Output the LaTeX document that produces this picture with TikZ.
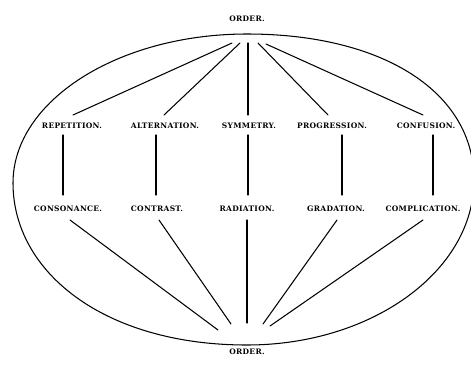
\documentclass[tikz,border=0pt]{standalone}
\usepackage{fontspec}
\newfontfamily\labfont[LetterSpace=4]{DejaVu Serif}
\usetikzlibrary{calc}
\begin{document}
\begin{tikzpicture}[x=1pt,y=-1pt,
  lab/.style={font=\labfont\fontsize{7.5}{8}\selectfont\bfseries, inner sep=0pt},
  ln/.style={line width=1.05pt, line cap=round}]
\useasboundingbox (0,0) rectangle (471,365);
\begin{scope}
\clip (0,0) rectangle (471,365);
\draw[line width=1.05pt] (13,183) .. controls (13,101) and (118,34) .. (247,34)
  .. controls (383,34) and (474,92) .. (474,180)
  .. controls (474,271) and (372,345) .. (247,345)
  .. controls (104,345) and (13,272) .. (13,183) -- cycle;
\end{scope}
\node[lab] (otop) at (247,19) {ORDER.};
\node[lab] (obot) at (247,352) {ORDER.};
\node[lab] (r1) at (72,126) {REPETITION.};
\node[lab] (r2) at (165,126) {ALTERNATION.};
\node[lab] (r3) at (249,126) {SYMMETRY.};
\node[lab] (r4) at (332,126) {PROGRESSION.};
\node[lab] (r5) at (426,126) {CONFUSION.};
\node[lab] (c1) at (68,209) {CONSONANCE.};
\node[lab] (c2) at (157,209) {CONTRAST.};
\node[lab] (c3) at (247,209) {RADIATION.};
\node[lab] (c4) at (336,209) {GRADATION.};
\node[lab] (c5) at (423,209) {COMPLICATION.};
\coordinate (t1) at (232,43);
\coordinate (t2) at (240,43);
\coordinate (t3) at (248,43);
\coordinate (t4) at (258,43);
\coordinate (t5) at (266,44);
\coordinate (b1) at (218,330);
\coordinate (b2) at (231,324);
\coordinate (b3) at (247,323);
\coordinate (b4) at (263,324);
\coordinate (b5) at (270,326);
\draw[ln] (t1) -- ($(r1)+(1,-11)$);
\draw[ln] (t2) -- ($(r2)+(-1,-11)$);
\draw[ln] (t3) -- ($(r3)+(-1,-11)$);
\draw[ln] (t4) -- ($(r4)+(-4,-11)$);
\draw[ln] (t5) -- ($(r5)+(-3,-11)$);
\draw[ln] ($(r1)+(-9,9)$) -- ($(c1)+(-5,-14)$);
\draw[ln] ($(r2)+(-9,9)$) -- ($(c2)+(-1,-14)$);
\draw[ln] ($(r3)+(-1,9)$) -- ($(c3)+(1,-14)$);
\draw[ln] ($(r4)+(10,9)$) -- ($(c4)+(6,-14)$);
\draw[ln] ($(r5)+(7,9)$) -- ($(c5)+(10,-14)$);
\draw[ln] ($(c1)+(2,11)$) -- (b1);
\draw[ln] ($(c2)+(2,11)$) -- (b2);
\draw[ln] ($(c3)+(0,11)$) -- (b3);
\draw[ln] ($(c4)+(1,11)$) -- (b4);
\draw[ln] ($(c5)+(0,11)$) -- (b5);
\end{tikzpicture}
\end{document}
